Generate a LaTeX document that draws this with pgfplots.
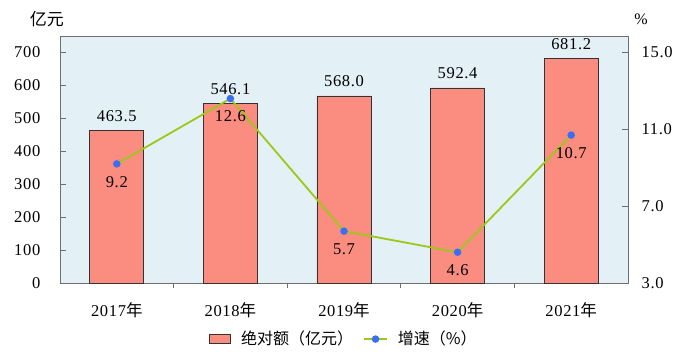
\documentclass[border=0pt]{standalone}
\usepackage{pgfplots}
\pgfplotsset{compat=1.18}
\usepackage{fontspec}
\setmainfont{Liberation Serif}[LetterSpace=4]
\newfontfamily\cjk{Noto Sans CJK SC}
\definecolor{bgblue}{HTML}{E3F0F5}
\definecolor{barsalmon}{HTML}{FA8C80}
\definecolor{linegreen}{HTML}{9DC81A}
\definecolor{markblue}{HTML}{3B6EF5}
\definecolor{axisgray}{HTML}{6E6E6E}
\pgfplotstableread{
x y label
0 463.5 463.5
1 546.1 546.1
2 568.0 568.0
3 592.4 592.4
4 681.2 681.2
}\bars
\pgfplotstableread{
x y label
0 9.2 9.2
1 12.6 12.6
2 5.7 5.7
3 4.6 4.6
4 10.7 10.7
}\growth
\begin{document}
\fontsize{16.5pt}{18pt}\selectfont
\begin{tikzpicture}
\useasboundingbox (-60pt,-76pt) rectangle (634pt,283pt);
\begin{axis}[
  at={(0pt,0pt)}, anchor=south west, scale only axis,
  width=568pt, height=247pt,
  xmin=-0.5, xmax=4.5, ymin=0, ymax=750,
  axis background/.style={fill=bgblue},
  axis line style={axisgray, line width=0.8pt},
  tick align=inside,
  xtick={0,1,2,3,4},
  xticklabels={2017{\cjk 年},2018{\cjk 年},2019{\cjk 年},2020{\cjk 年},2021{\cjk 年}},
  major x tick style={draw=none},
  minor xtick={0.5,1.5,2.5,3.5},
  minor tick length=5pt,
  minor x tick style={axisgray, line width=0.8pt},
  xtick pos=bottom,
  ytick={0,100,...,700},
  yticklabels={0,100,200,300,400,500,600,700},
  ytick pos=left,
  major tick length=6pt,
  y tick style={axisgray, line width=0.8pt},
  xticklabel style={yshift=-8pt, font=\fontsize{16.5pt}{18pt}\selectfont},
  yticklabel style={xshift=-14pt, font=\fontsize{16.5pt}{18pt}\selectfont},
  ybar, bar width=54pt,
  nodes near coords,
  point meta=explicit symbolic,
  every node near coord/.append style={font=\fontsize{16.5pt}{18pt}\selectfont, text=black, yshift=3pt},
]
\addplot[fill=barsalmon, draw=black!80, line width=0.8pt] table[x=x, y=y, meta=label]{\bars};
\end{axis}
\node[font=\cjk\fontsize{17pt}{18pt}\selectfont, anchor=center] at (-13pt,264pt) {亿元};
\node[font=\fontsize{16pt}{17pt}\selectfont, anchor=center] at (581pt,264pt) {\%};
\begin{axis}[
  at={(0pt,0pt)}, anchor=south west, scale only axis,
  width=568pt, height=247pt,
  xmin=-0.5, xmax=4.5, ymin=3, ymax=15.857,
  axis x line=none,
  axis y line*=right,
  axis line style={axisgray, line width=0.8pt, -},
  tick align=inside,
  ytick={3,7,11,15},
  yticklabels={3.0,7.0,11.0,15.0},
  major tick length=6pt,
  y tick style={axisgray, line width=0.8pt},
  yticklabel style={xshift=8pt, font=\fontsize{16.5pt}{18pt}\selectfont},
  legend style={at={(0.5,-0.227)}, anchor=center, draw=none, fill=none,
    font=\cjk\fontsize{16pt}{18pt}\selectfont, column sep=8pt},
  legend columns=2,
]
\addlegendimage{legend image code/.code={\draw[fill=barsalmon, draw=black!80, line width=0.8pt] (0pt,-4.5pt) rectangle (21pt,4.5pt);}}
\addlegendentry{绝对额（亿元）}
\addplot[color=linegreen, line width=1.8pt, mark=*, mark size=2.8pt,
  mark options={fill=markblue, draw=markblue},
  nodes near coords, point meta=explicit symbolic,
  every node near coord/.append style={anchor=north, yshift=-6pt, font=\fontsize{16.5pt}{18pt}\selectfont, text=black},
  legend image code/.code={\draw[linegreen, line width=1.8pt] (0pt,0pt) -- (23pt,0pt); \fill[markblue] (11.5pt,0pt) circle (2.8pt);}
  ] table[x=x, y=y, meta=label]{\growth};
\addlegendentry{增速（\%）}
\end{axis}
\end{tikzpicture}
\end{document}
